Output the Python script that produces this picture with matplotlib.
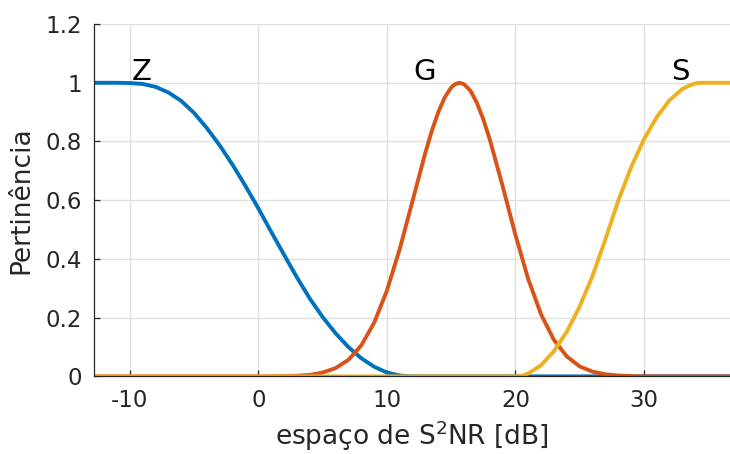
import matplotlib
matplotlib.use('Agg')
import matplotlib.pyplot as plt

# --------- dados ---------
x_z = [-12.8, -11, -10, -9, -8, -7, -6, -5, -4, -3, -2, -1, 0, 1, 2, 3, 4, 5, 6, 7, 8, 9, 10, 11,
       11.5, 12, 36.7]
y_z = [1.0, 1.0, 0.999, 0.996, 0.986, 0.967, 0.938, 0.897, 0.845, 0.786, 0.72, 0.648, 0.572, 0.492,
       0.414, 0.337, 0.265, 0.202, 0.147, 0.1, 0.062, 0.033, 0.013, 0.003, 0.001, 0.0, 0.0]

x_g = [-12.8, 1, 2, 3, 4, 5, 6, 7, 8, 9, 10, 11, 12, 13, 13.5, 14, 14.5, 15, 15.3, 15.65, 16, 16.5,
       17, 17.5, 18, 19, 20, 21, 22, 23, 24, 25, 26, 27, 28, 29, 30, 36.7]
y_g = [0.0, 0.0, 0.001, 0.002, 0.005, 0.013, 0.028, 0.056, 0.105, 0.182, 0.292, 0.434, 0.598, 0.763,
       0.837, 0.9, 0.95, 0.984, 0.995, 1.0, 0.995, 0.973, 0.932, 0.876, 0.808, 0.649, 0.482, 0.331,
       0.211, 0.124, 0.068, 0.034, 0.016, 0.007, 0.003, 0.001, 0.0, 0.0]

x_s = [-12.8, 20, 20.5, 21, 22, 23, 24, 25, 26, 27, 28, 29, 30, 31, 32, 33, 33.5, 34, 34.5, 36.7]
y_s = [0.0, 0.0, 0.002, 0.01, 0.038, 0.086, 0.152, 0.238, 0.342, 0.466, 0.598, 0.712, 0.807, 0.883,
       0.941, 0.979, 0.99, 0.998, 1.0, 1.0]

labels = ['Z', 'G', 'S']
label_x = [-9.1, 12.95, 32.85]
label_y = [1.01, 1.01, 1.01]

x_ticks = [-10, 0, 10, 20, 30]
y_ticks = [0, 0.2, 0.4, 0.6, 0.8, 1.0, 1.2]
y_ticklabels = ['0', '0.2', '0.4', '0.6', '0.8', '1', '1.2']

# cores padrão do MATLAB
cores = ['#0072BD', '#D95319', '#EDB120']
# ------------------------

plt.rcParams['font.family'] = ['DejaVu Sans']
plt.rcParams['axes.unicode_minus'] = False

fig = plt.figure(figsize=(7.3, 4.54), dpi=100)
ax = fig.add_axes([0.129, 0.171, 0.871, 0.776])

ax.plot(x_z, y_z, color=cores[0], lw=2.8, solid_joinstyle='round')
ax.plot(x_g, y_g, color=cores[1], lw=2.8, solid_joinstyle='round')
ax.plot(x_s, y_s, color=cores[2], lw=2.8, solid_joinstyle='round')

for txt, tx, ty in zip(labels, label_x, label_y):
    ax.text(tx, ty, txt, fontsize=21, ha='center', va='baseline', color='black')

ax.set_xlim(-12.78, 36.7)
ax.set_ylim(0, 1.2)
ax.set_xticks(x_ticks)
ax.set_xticklabels([str(t) for t in x_ticks])
ax.set_yticks(y_ticks)
ax.set_yticklabels(y_ticklabels)

ax.grid(True, color='#e0e0e0', lw=1.0)
ax.set_axisbelow(True)
for s in ['top', 'right']:
    ax.spines[s].set_visible(False)
for s in ['left', 'bottom']:
    ax.spines[s].set_color('#262626')
    ax.spines[s].set_linewidth(0.9)

ax.tick_params(direction='in', length=4, width=0.9, colors='#262626', labelsize=16.5, pad=9)

ax.set_xlabel('espaço de S$^2$NR [dB]', fontsize=19, color='#262626', labelpad=5)
ax.set_ylabel('Pertinência', fontsize=19, color='#262626', labelpad=8)

fig.savefig('out.png', dpi=100)
